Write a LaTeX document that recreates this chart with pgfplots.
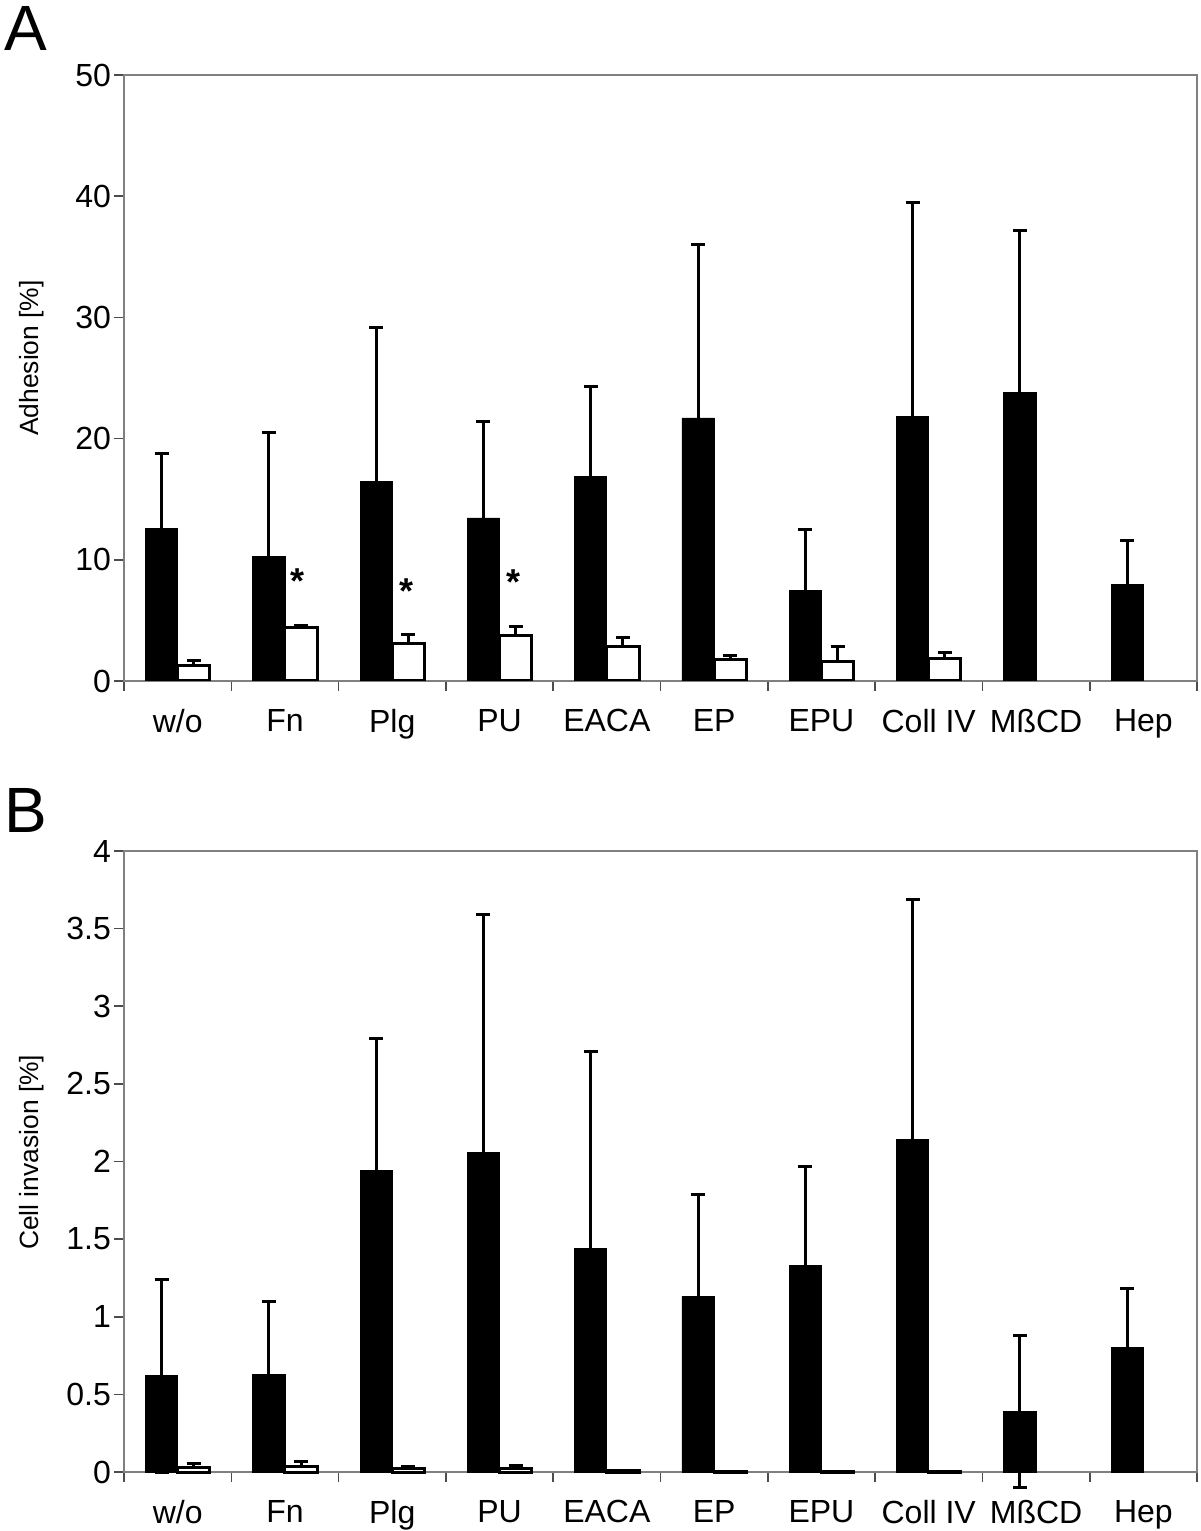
\documentclass[border=0pt]{standalone}
\usepackage{fontspec}
\setmainfont{Liberation Sans}
\usepackage{pgfplots}
\pgfplotsset{compat=1.18}

\definecolor{axisgray}{gray}{0.5}

\pgfplotsset{
  panel/.style={
    scale only axis, width=536.5pt,
    xmin=-0.5, xmax=9.5, ymin=0,
    axis line style={axisgray, line width=1pt},
    tick style={axisgray!60!black, line width=0.8pt},
    tick align=outside, tick pos=left,
    major tick length=5pt, minor tick length=5pt,
    xtick={0,...,9},
    xticklabels={w/o,Fn,Plg,PU,EACA,EP,EPU,Coll IV,MßCD,Hep},
    major x tick style={draw=none},
    minor xtick={-0.5,0.5,...,9.5},
    ticklabel style={font=\fontsize{16}{19}\selectfont},
    xticklabel style={yshift=-5.5pt},
    yticklabel style={xshift=2pt},
    /pgf/number format/assume math mode=true,
    every axis y label/.style={rotate=90, anchor=center,
      font=\fontsize{13.2}{15}\selectfont},
    ybar, bar width=0.3,
    error bars/error bar style={line width=1.5pt, black},
    error bars/error mark options={rotate=90, mark size=3.5pt, line width=1.5pt, black},
  },
  blackbar/.style={fill=black, draw=black, bar shift=-0.15,
    error bars/.cd, y dir=both, y explicit},
  whitebar/.style={fill=white, draw=black, line width=1.5pt, bar shift=0.15,
    error bars/.cd, y dir=plus, y explicit},
}
\tikzset{star/.style={anchor=base, font=\bfseries\fontsize{18}{20}\selectfont}}

\begin{document}
\begin{tikzpicture}
\useasboundingbox (0,0) rectangle (600pt,-765.5pt);

\node[anchor=north west, inner sep=0, font=\fontsize{32}{36}\selectfont] at (2pt,-3pt) {A};
\node[anchor=north west, inner sep=0, font=\fontsize{32}{36}\selectfont] at (2pt,-394pt) {B};

% panel A: adhesion
\begin{axis}[panel, at={(62pt,-37.5pt)}, anchor=north west,
  height=303pt, ymax=50, ytick={0,10,...,50},
  ylabel={Adhesion [\%]},
  ylabel style={at={(axis description cs:-0.0857,0.533)}}]
\addplot[blackbar] coordinates {
  (0,12.6) +- (0,6.16)
  (1,10.27) +- (0,10.23)
  (2,16.5) +- (0,12.7)
  (3,13.45) +- (0,7.95)
  (4,16.9) +- (0,7.4)
  (5,21.7) +- (0,14.3)
  (6,7.5) +- (0,5.0)
  (7,21.8) +- (0,17.7)
  (8,23.8) +- (0,13.4)
  (9,8.0) +- (0,3.6)
};
\addplot[whitebar] coordinates {
  (0,1.31) +- (0,0.42)
  (1,4.4) +- (0,0.18)
  (2,3.1) +- (0,0.74)
  (3,3.78) +- (0,0.74)
  (4,2.82) +- (0,0.74)
  (5,1.81) +- (0,0.30)
  (6,1.64) +- (0,1.24)
  (7,1.83) +- (0,0.53)
};
\node[star] at (axis cs:1.12,7.2) {*};
\node[star] at (axis cs:2.13,6.4) {*};
\node[star] at (axis cs:3.13,7.15) {*};
\end{axis}

% panel B: invasion
\begin{axis}[panel, at={(62pt,-425.5pt)}, anchor=north west,
  height=310.5pt, ymax=4, ytick={0,0.5,...,4},
  ylabel={Cell invasion [\%]},
  ylabel style={at={(axis description cs:-0.0857,0.515)}}, clip=false]
\addplot[blackbar] coordinates {
  (0,0.62) +- (0,0.62)
  (1,0.63) +- (0,0.47)
  (2,1.94) +- (0,0.85)
  (3,2.06) +- (0,1.53)
  (4,1.44) +- (0,1.27)
  (5,1.13) +- (0,0.66)
  (6,1.33) +- (0,0.64)
  (7,2.14) +- (0,1.55)
  (8,0.39) +- (0,0.49)
  (9,0.80) +- (0,0.38)
};
\addplot[whitebar] coordinates {
  (0,0.03) +- (0,0.025)
  (1,0.035) +- (0,0.03)
  (2,0.02) +- (0,0.015)
  (3,0.025) +- (0,0.02)
};
\addplot[fill=white, draw=black, line width=1.5pt, bar shift=0.15] coordinates {
  (4,0.008) (5,0.005) (6,0.005) (7,0.005)
};
\end{axis}
\end{tikzpicture}
\end{document}
